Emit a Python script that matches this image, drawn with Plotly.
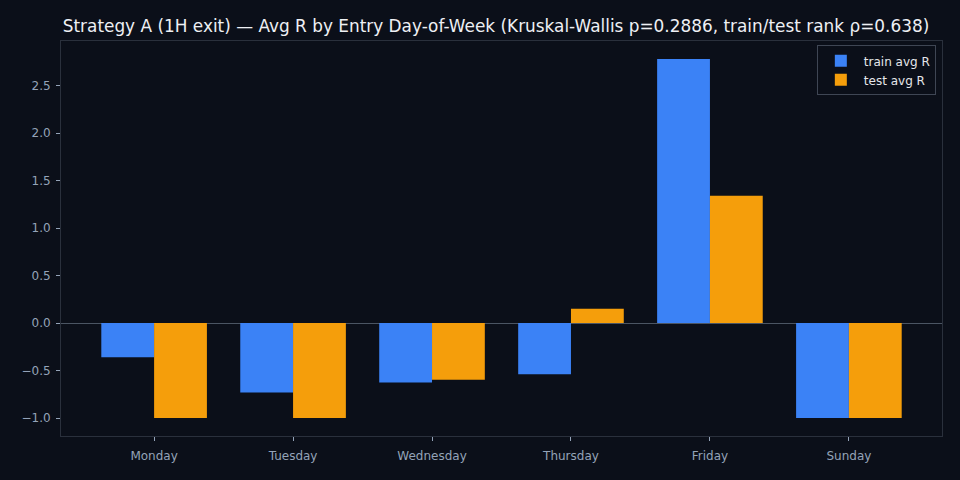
import plotly.graph_objects as go

days = ["Monday", "Tuesday", "Wednesday", "Thursday", "Friday", "Sunday"]
train_avg_r = [-0.36, -0.73, -0.625, -0.54, 2.78, -1.0]
test_avg_r = [-1.0, -1.0, -0.597, 0.15, 1.34, -1.0]

BG = "#0b0f19"
GRID = "#2a303c"
TICK = "#94a3b8"

fig = go.Figure()
fig.add_trace(go.Bar(x=days, y=train_avg_r, name="train avg R", marker=dict(color="#3b82f6", line=dict(width=0))))
fig.add_trace(go.Bar(x=days, y=test_avg_r, name="test avg R", marker=dict(color="#f59e0b", line=dict(width=0))))

fig.update_layout(
    width=960, height=480,
    paper_bgcolor=BG, plot_bgcolor=BG,
    margin=dict(l=61, r=18, t=41, b=44),
    barmode="group", bargap=0.24, bargroupgap=0,
    font=dict(family="DejaVu Sans", color=TICK, size=12),
    title=dict(
        text="Strategy A (1H exit) — Avg R by Entry Day-of-Week (Kruskal-Wallis p=0.2886, train/test rank ρ=0.638)",
        xref="container", x=496 / 960, xanchor="center", y=0.946, yanchor="middle",
        font=dict(family="DejaVu Sans", size=16.9, color="#eef0f4"),
    ),
    legend=dict(
        x=0.993, xanchor="right", y=0.989, yanchor="top",
        bgcolor=BG, bordercolor="#3f4654", borderwidth=1,
        font=dict(color="#e5e7eb", size=12),
        itemwidth=36,
        tracegroupgap=0,
    ),
    xaxis=dict(
        range=[-0.67, 5.67], showgrid=False, zeroline=False,
        showline=True, linecolor=GRID, mirror=True, linewidth=1,
        ticks="outside", ticklen=4, tickcolor=TICK,
        ticklabelstandoff=5,
        tickfont=dict(size=12, color=TICK),
    ),
    yaxis=dict(
        range=[-1.189, 2.969], dtick=0.5, tickformat=".1f",
        showgrid=False, zeroline=True, zerolinecolor="#4b5563", zerolinewidth=1,
        showline=True, linecolor=GRID, mirror=True, linewidth=1,
        ticks="outside", ticklen=4, tickcolor=TICK,
        ticklabelstandoff=3,
        tickfont=dict(size=12, color=TICK),
    ),
)

fig.write_html(
    "out.html",
    config={"displayModeBar": False},
    post_script="document.body.style.margin='0';document.body.style.background='#0b0f19';",
)
